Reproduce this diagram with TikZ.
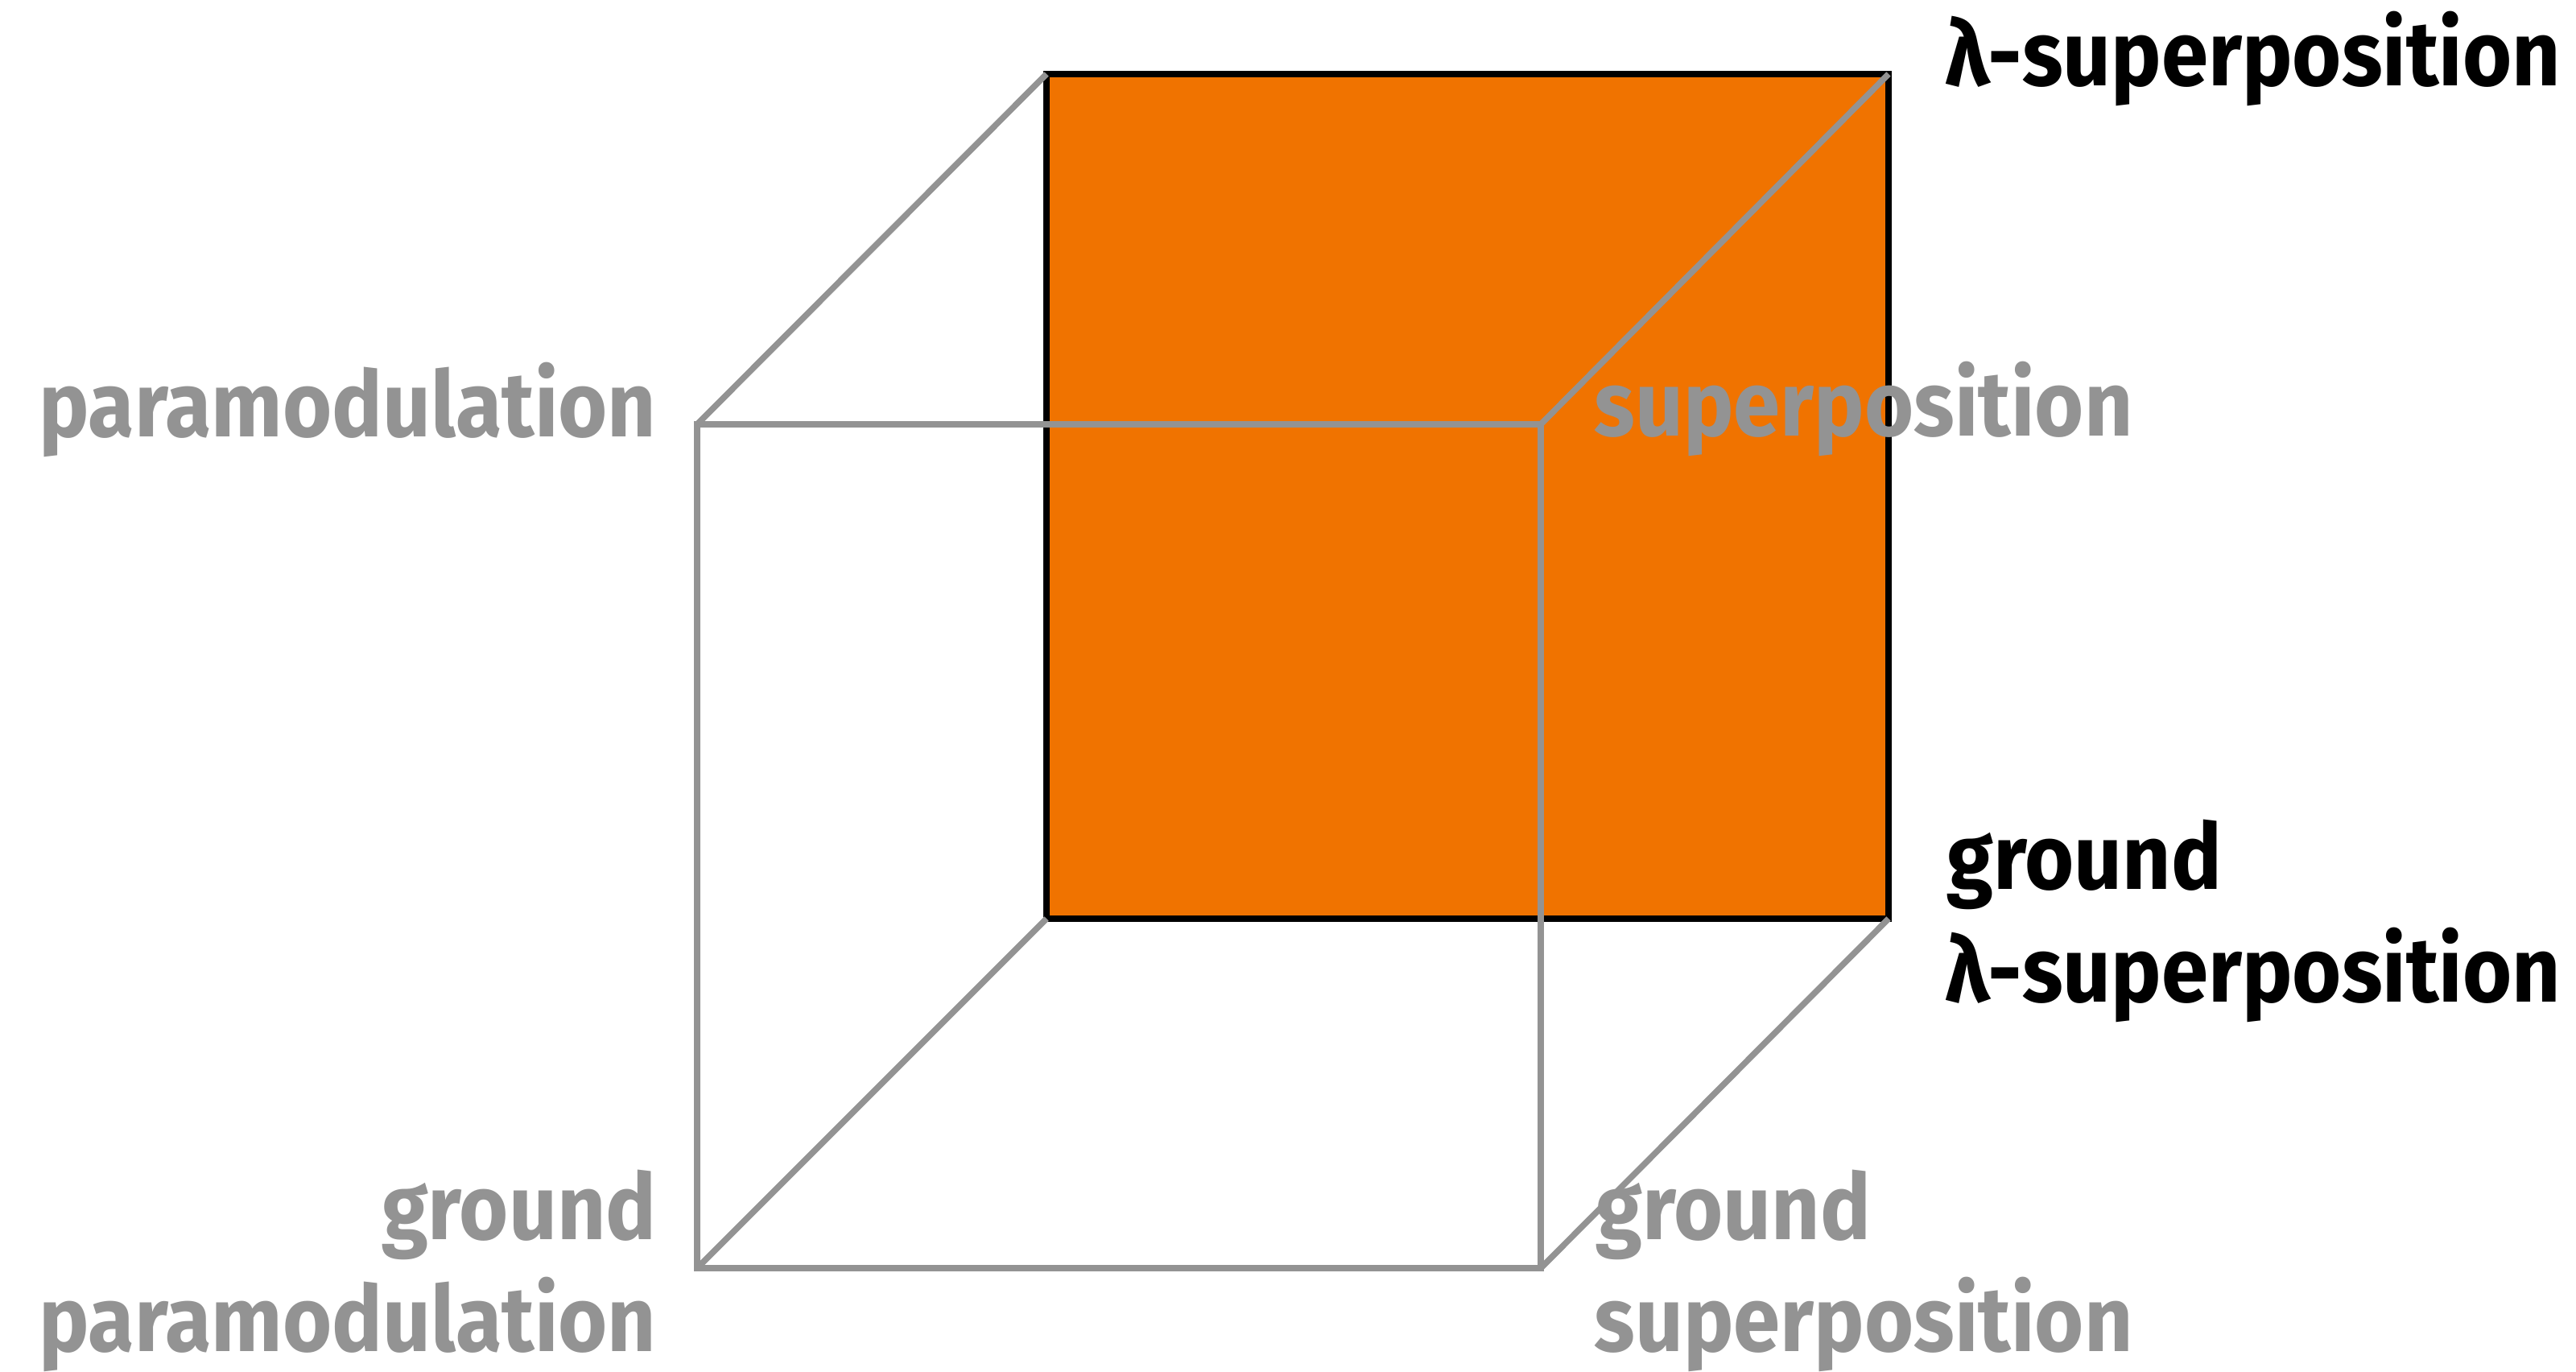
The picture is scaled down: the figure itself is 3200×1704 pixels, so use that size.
\documentclass[tikz,border=0pt]{standalone}
\usepackage{fontspec}
\newfontfamily\labfont{Fira Sans}[FakeStretch=0.92]
\definecolor{cubeorange}{RGB}{240,115,0}
\definecolor{cubegray}{RGB}{147,147,147}
\begin{document}
\begin{tikzpicture}[x=0.01cm,y=-0.01cm,
  edge/.style={draw=cubegray,line width=2.15pt,line cap=butt,line join=miter},
  face/.style={fill=cubeorange,draw=black,line width=2.15pt},
  lab/.style={inner sep=0pt,font=\labfont\bfseries\fontsize{32.4}{39.5}\selectfont},
  graylab/.style={lab,text=cubegray},
  blacklab/.style={lab,text=black}]
\useasboundingbox (0,0) rectangle (3200,1704);
% back face corners
\coordinate (btl) at (1300,92);
\coordinate (btr) at (2346,92);
\coordinate (bbr) at (2346,1141);
\coordinate (bbl) at (1300,1141);
% front face corners
\coordinate (ftl) at (866,527);
\coordinate (ftr) at (1914,527);
\coordinate (fbr) at (1914,1575);
\coordinate (fbl) at (866,1575);
% orange back face
\draw[face] (btl) -- (btr) -- (bbr) -- (bbl) -- cycle;
% gray front face and diagonals
\draw[edge] (ftl) -- (ftr) -- (fbr) -- (fbl) -- cycle;
\draw[edge] (ftl) -- (btl);
\draw[edge] (ftr) -- (btr);
\draw[edge] (fbr) -- (bbr);
\draw[edge] (fbl) -- (bbl);
% labels
\node[blacklab,anchor=base west] (lsup) at (2416,107) {λ-superposition};
\node[graylab,anchor=base west] (sup) at (1980,542) {superposition};
\node[graylab,anchor=base east] (para) at (816,543) {paramodulation};
\node[blacklab,anchor=base west] (glsup1) at (2418,1104) {ground};
\node[blacklab,anchor=base west] (glsup2) at (2416,1244) {λ-superposition};
\node[graylab,anchor=base east] (gpara1) at (816,1539) {ground};
\node[graylab,anchor=base east] (gpara2) at (816,1678) {paramodulation};
\node[graylab,anchor=base west] (gsup1) at (1982,1539) {ground};
\node[graylab,anchor=base west] (gsup2) at (1980,1678) {superposition};
\end{tikzpicture}
\end{document}
